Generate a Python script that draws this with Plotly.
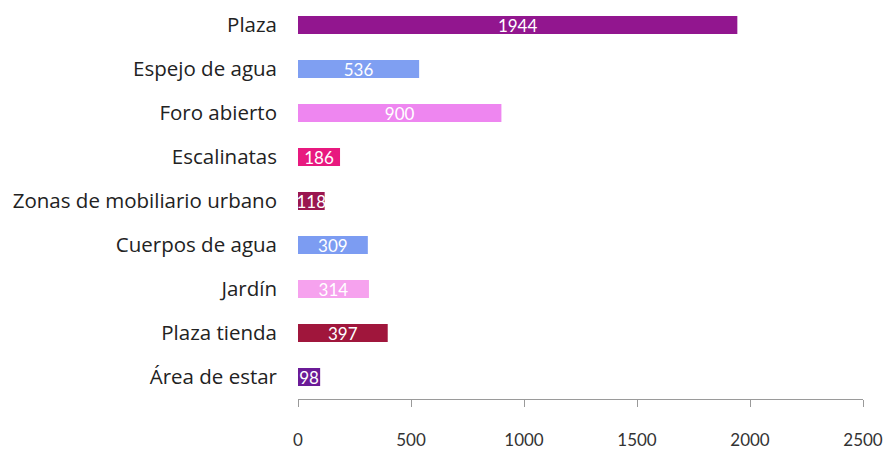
import plotly.graph_objects as go

# Categories and counts, listed top to bottom
categorias = [
    "Plaza",
    "Espejo de agua",
    "Foro abierto",
    "Escalinatas",
    "Zonas de mobiliario urbano",
    "Cuerpos de agua",
    "Jardín",
    "Plaza tienda",
    "Área de estar",
]
valores = [1944, 536, 900, 186, 118, 309, 314, 397, 98]
colores = [
    "#92168f",
    "#7f9ff2",
    "#ee86f0",
    "#e8197f",
    "#9a1650",
    "#7c9cf2",
    "#f6a2ee",
    "#a0163c",
    "#6b1b97",
]
ticks_x = [0, 500, 1000, 1500, 2000, 2500]

fig = go.Figure(
    go.Bar(
        y=categorias,
        x=valores,
        orientation="h",
        marker=dict(color=colores, line=dict(width=0)),
        width=0.41,
        text=[str(v) for v in valores],
        textposition="inside",
        insidetextanchor="middle",
        textangle=0,
        constraintext="none",
        textfont=dict(family="Lato", size=17, color="white"),
        hoverinfo="skip",
    )
)

fig.update_layout(
    width=890,
    height=453,
    margin=dict(l=298, r=27, t=3, b=52),
    paper_bgcolor="white",
    plot_bgcolor="white",
    showlegend=False,
    font=dict(family="Open Sans", color="#222222"),
)

fig.update_xaxes(
    range=[0, 2500],
    tickvals=ticks_x,
    ticktext=[str(t) for t in ticks_x],
    showgrid=False,
    zeroline=False,
    showline=True,
    linecolor="#9a9a9a",
    linewidth=1,
    ticks="outside",
    ticklen=7,
    tickcolor="#9a9a9a",
    tickfont=dict(family="Lato", size=17, color="#333333"),
    ticklabelstandoff=19,
)

fig.update_yaxes(
    categoryorder="array",
    categoryarray=categorias,
    autorange="reversed",
    range=[8.5, -0.5],
    showgrid=False,
    showline=False,
    zeroline=False,
    ticks="",
    tickfont=dict(family="Open Sans", size=20.5, color="#222222"),
    ticklabelstandoff=20,
)

fig.write_html("out.html")
